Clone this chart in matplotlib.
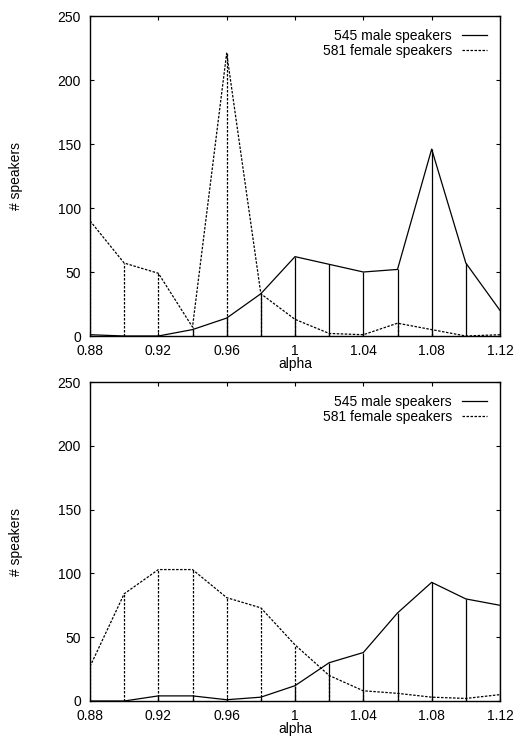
import matplotlib

matplotlib.use("Agg")
import matplotlib.pyplot as plt

plt.rcParams["font.family"] = ["Liberation Sans", "DejaVu Sans"]
plt.rcParams["font.size"] = 10

alpha = [0.88, 0.90, 0.92, 0.94, 0.96, 0.98, 1.00, 1.02, 1.04, 1.06, 1.08, 1.10, 1.12]
xticks = [0.88, 0.92, 0.96, 1.00, 1.04, 1.08, 1.12]
xtick_labels = ["0.88", "0.92", "0.96", "1", "1.04", "1.08", "1.12"]
yticks = [0, 50, 100, 150, 200, 250]

# top panel
male_top = [1, 0, 0, 5, 14, 33, 62, 56, 50, 52, 146, 57, 20]
female_top = [90, 57, 49, 7, 221, 33, 13, 2, 1, 10, 5, 0, 1]

# bottom panel
male_bottom = [0, 0, 4, 4, 1, 3, 12, 30, 38, 69, 93, 80, 75]
female_bottom = [27, 84, 103, 103, 81, 73, 44, 20, 8, 6, 3, 2, 5]

male_label = "545 male speakers"
female_label = "581 female speakers"

DASH = (0, (2, 1.2))
W, H = 516, 736


def draw_panel(ax, male, female):
    ax.plot(alpha, male, color="black", lw=0.9, label=male_label)
    ax.plot(alpha, female, color="black", lw=0.9, linestyle=DASH, label=female_label)
    ax.vlines(alpha, 0, male, color="black", lw=0.9)
    ax.vlines(alpha, 0, female, color="black", lw=0.9, linestyles=[DASH])

    ax.set_xlim(0.88, 1.12)
    ax.set_ylim(0, 250)
    ax.set_xticks(xticks)
    ax.set_xticklabels(xtick_labels)
    ax.set_yticks(yticks)
    ax.tick_params(direction="in", length=3, width=0.8, top=True, right=True,
                   labelsize=10)
    ax.tick_params(axis="x", pad=5.5)
    ax.tick_params(axis="y", pad=6.5)
    for sp in ax.spines.values():
        sp.set_linewidth(1.0)

    ax.set_xlabel("alpha", fontsize=10, labelpad=-0.5)
    ax.set_ylabel("# speakers", fontsize=10, labelpad=25)
    ax.legend(loc="upper right", frameon=False, markerfirst=False, fontsize=10,
              handlelength=1.8, handletextpad=0.72, labelspacing=0.05,
              borderaxespad=0.55)


fig = plt.figure(figsize=(W / 100, H / 100), dpi=100)
ax_top = fig.add_axes([90 / W, 1 - 336 / H, 410 / W, 320 / H])
ax_bot = fig.add_axes([90 / W, 1 - 701 / H, 410 / W, 319 / H])

draw_panel(ax_top, male_top, female_top)
draw_panel(ax_bot, male_bottom, female_bottom)

fig.savefig("out.png", dpi=100)
plt.close(fig)
